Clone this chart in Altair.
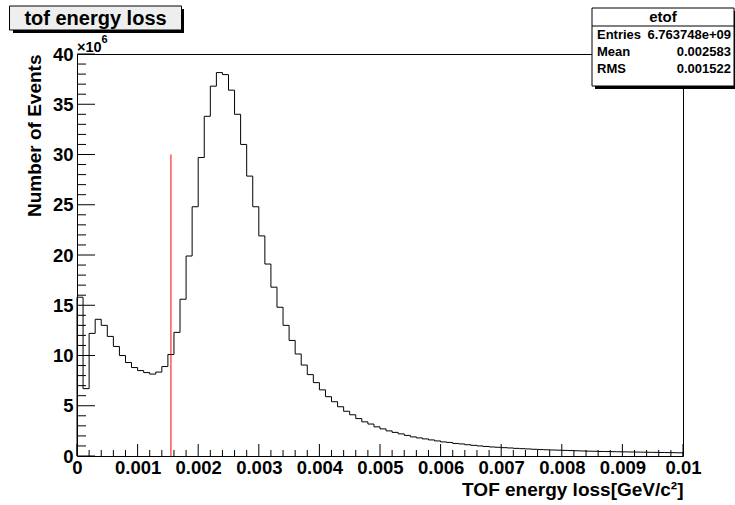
import altair as alt
import pandas as pd

# ---------------- data ----------------
# bin contents (in units of 1e6 events), 100 bins of width 0.0001 from 0 to 0.01
counts_m = [
    15.8, 6.7, 12.2, 13.6, 13.0, 11.9, 10.9, 10.0, 9.3, 8.8,
    8.5, 8.3, 8.15, 8.35, 8.9, 10.1, 12.3, 15.6, 19.9, 24.8,
    29.7, 33.8, 36.8, 38.15, 37.95, 36.4, 34.0, 31.0, 27.85, 24.8,
    21.9, 19.1, 16.8, 14.8, 13.0, 11.5, 10.15, 9.05, 8.1, 7.3,
    6.58, 5.9, 5.4, 4.9, 4.45, 4.1, 3.72, 3.4, 3.18, 2.9,
    2.7, 2.5, 2.35, 2.2, 2.05, 1.9, 1.8, 1.7, 1.6, 1.5,
    1.4, 1.35, 1.25, 1.2, 1.12, 1.06, 1.0, 0.95, 0.9, 0.87,
    0.83, 0.8, 0.76, 0.73, 0.7, 0.67, 0.64, 0.62, 0.6, 0.58,
    0.56, 0.54, 0.52, 0.5, 0.48, 0.47, 0.45, 0.44, 0.43, 0.42,
    0.41, 0.4, 0.39, 0.38, 0.37, 0.36, 0.35, 0.34, 0.33, 0.32,
]
x_range = [0.0, 0.01]
bin_width = 0.0001
y_range = [0, 40]

marker_x = [0.00155]
marker_top = [30.0]

x_major = [0.0, 0.001, 0.002, 0.003, 0.004, 0.005, 0.006, 0.007, 0.008, 0.009, 0.01]
y_major = [0, 5, 10, 15, 20, 25, 30, 35, 40]

stats_labels = ["Entries", "Mean", "RMS"]
stats_values = ["6.763748e+09", "0.002583", "0.001522"]
hist_name = "etof"
title_text = "tof energy loss"
x_title = "TOF energy loss[GeV/c²]"
y_title = "Number of Events"

# ---------------- tables ----------------
pts = [{"o": 0, "x": x_range[0], "y": 0.0}]
for i, v in enumerate(counts_m):
    pts.append({"o": i + 1, "x": round(i * bin_width, 6), "y": v})
pts.append({"o": len(counts_m) + 1, "x": x_range[1], "y": counts_m[-1]})
pts.append({"o": len(counts_m) + 2, "x": x_range[1], "y": 0.0})
hist_df = pd.DataFrame(pts)

x_minor = [round(i * 0.0002, 6) for i in range(51) if i % 5 != 0]
y_minor = [i for i in range(41) if i % 5 != 0]

W, H = 606, 402
FONT = "Liberation Sans"

xscale = alt.Scale(domain=x_range, nice=False, zero=False)
yscale = alt.Scale(domain=y_range, nice=False, zero=False)

x_axis = alt.Axis(
    values=x_major, format=".3~f", ticks=False, domain=False, grid=False,
    labelFlush=False, labelOverlap=False, labelPadding=2,
    labelFont=FONT, labelFontSize=18.5, labelFontWeight="bold", labelColor="black",
    titleFont=FONT, titleFontSize=19, titleFontWeight="bold",
    titleColor="black", titleX=W, titleY=39, titleAlign="right",
    titleBaseline="alphabetic")
y_axis = alt.Axis(
    values=y_major, format="d", ticks=False, domain=False, grid=False,
    labelFlush=False, labelOverlap=False, labelPadding=4,
    labelFont=FONT, labelFontSize=18.5, labelFontWeight="bold", labelColor="black",
    titleFont=FONT, titleFontSize=19, titleFontWeight="bold",
    titleColor="black", titleAngle=270, titleX=-37, titleY=0,
    titleAlign="right", titleBaseline="alphabetic")


def X(field):
    return alt.X(field, scale=xscale, axis=x_axis, title=x_title)


def Y(field):
    return alt.Y(field, scale=yscale, axis=y_axis, title=y_title)


hist = alt.Chart(hist_df).mark_line(
    interpolate="step-after", color="black", strokeWidth=1
).encode(x=X("x:Q"), y=Y("y:Q"), order="o:Q")

marker = alt.Chart(pd.DataFrame({"x": marker_x, "y0": [0.0], "y1": marker_top})).mark_rule(
    color="red", strokeWidth=1
).encode(x=X("x:Q"), y=Y("y0:Q"), y2="y1:Q")


def xticks(vals, length):
    return alt.Chart(pd.DataFrame({"x": vals})).mark_rule(color="black", strokeWidth=1).encode(
        x=X("x:Q"), y=alt.value(H), y2=alt.value(H - length))


def yticks(vals, length):
    return alt.Chart(pd.DataFrame({"y": vals})).mark_rule(color="black", strokeWidth=1).encode(
        y=Y("y:Q"), x=alt.value(0), x2=alt.value(length))


one = pd.DataFrame({"a": [0]})


def box(x1, x2, y1, y2, fill, stroke=None):
    kw = dict(fill=fill)
    if stroke:
        kw.update(stroke=stroke, strokeWidth=1)
    return alt.Chart(one).mark_rect(**kw).encode(
        x=alt.value(x1), x2=alt.value(x2), y=alt.value(y1), y2=alt.value(y2))


def txt(s, x, y, size, align="left", baseline="middle"):
    return alt.Chart(one).mark_text(
        text=s, font=FONT, fontSize=size, fontWeight="bold", color="black",
        align=align, baseline=baseline
    ).encode(x=alt.value(x), y=alt.value(y))


# title box (top-left)
title_layers = [
    box(-64, 107, -45, -21, "black"),
    box(-67.5, 104.5, -48, -24, "#eeeeee", "black"),
    txt(title_text, 18.5, -29.5, 20, align="center", baseline="alphabetic"),
]

# multiplier
mult_layers = [
    txt("×10", 0, -2, 14.5, baseline="alphabetic"),
    txt("6", 24.5, -11.5, 11, baseline="alphabetic"),
]

# stats box (top-right)
stats_layers = [
    box(518, 661, -43, 35, "black"),
    box(515, 657, -46, 32, "white", "black"),
    alt.Chart(one).mark_rule(color="black", strokeWidth=1).encode(
        x=alt.value(515), x2=alt.value(657), y=alt.value(-28), y2=alt.value(-28)),
    txt(hist_name, 586, -37, 15, align="center"),
]
for i, (lab, val) in enumerate(zip(stats_labels, stats_values)):
    yy = -19 + i * 17
    stats_layers.append(txt(lab, 520, yy, 13))
    stats_layers.append(txt(val, 654, yy, 13, align="right"))

chart = alt.layer(
    hist, marker,
    xticks(x_major, 12), xticks(x_minor, 6),
    yticks(y_major, 18), yticks(y_minor, 9),
    *title_layers, *mult_layers, *stats_layers,
).properties(
    width=W, height=H,
    autosize=alt.AutoSizeParams(type="none"),
    padding={"left": 77, "top": 54, "right": 52, "bottom": 49},
    background="white",
).configure_view(stroke="black", strokeWidth=1)

chart.save("out.html", embed_options={"renderer": "svg", "actions": False})
